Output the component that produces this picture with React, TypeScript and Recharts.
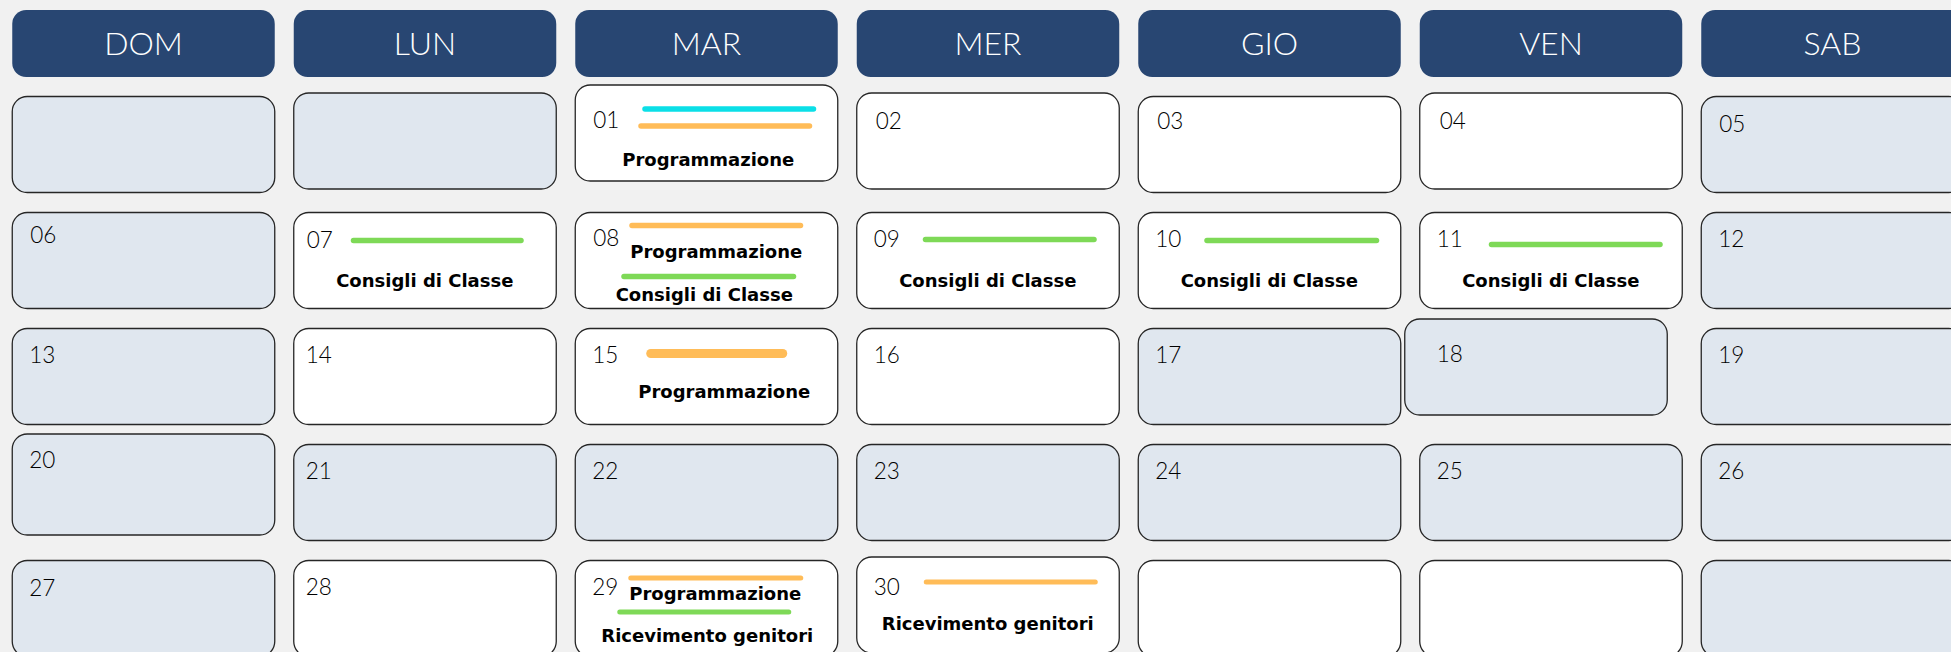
import React from 'react';
import { ScatterChart, Scatter, XAxis, YAxis } from 'recharts';

// ---------- DATA ----------
const weekdayLabels = ['DOM', 'LUN', 'MAR', 'MER', 'GIO', 'VEN', 'SAB'];

const week1Days = ['', '', '01', '02', '03', '04', '05'];
const week2Days = ['06', '07', '08', '09', '10', '11', '12'];
const week3Days = ['13', '14', '15', '16', '17', '18', '19'];
const week4Days = ['20', '21', '22', '23', '24', '25', '26'];
const week5Days = ['27', '28', '29', '30', '', '', ''];

const week1School = [false, false, true, true, true, true, false];
const week2School = [false, true, true, true, true, true, false];
const week3School = [false, true, true, true, false, false, false];
const week4School = [false, false, false, false, false, false, false];
const week5School = [false, true, true, true, true, true, false];

const eventBars = [
  { day: '01', kind: 'cyan' },
  { day: '01', kind: 'orange' },
  { day: '07', kind: 'green' },
  { day: '08', kind: 'orange' },
  { day: '08', kind: 'green' },
  { day: '09', kind: 'green' },
  { day: '10', kind: 'green' },
  { day: '11', kind: 'green' },
  { day: '15', kind: 'orange' },
  { day: '29', kind: 'orange' },
  { day: '29', kind: 'green' },
  { day: '30', kind: 'orange' },
];

const eventLabels = [
  { day: '01', text: 'Programmazione' },
  { day: '07', text: 'Consigli di Classe' },
  { day: '08', text: 'Programmazione' },
  { day: '08', text: 'Consigli di Classe' },
  { day: '09', text: 'Consigli di Classe' },
  { day: '10', text: 'Consigli di Classe' },
  { day: '11', text: 'Consigli di Classe' },
  { day: '15', text: 'Programmazione' },
  { day: '29', text: 'Programmazione' },
  { day: '29', text: 'Ricevimento genitori' },
  { day: '30', text: 'Ricevimento genitori' },
];

// ---------- LAYOUT / STYLE ----------
const W = 1951;
const H = 652;
const CELL_W = 262.5;
const CELL_H = 96;
const HEAD_H = 67;
const X_DOMAIN: [number, number] = [-143.5 / 281.5, (W - 143.5) / 281.5];
const Y_DOMAIN: [number, number] = [-28.5 / 116, (H - 28.5) / 116];

const BG = '#F1F1F1';
const NAVY = '#284672';
const GRAY = '#E0E7EF';
const BAR_COLORS: Record<string, string> = {
  cyan: '#0BDFE7',
  orange: '#FFBC58',
  green: '#7ED957',
};

// per-cell nudges (week-col): dx, dy, h
const cellNudge: Record<string, { dx?: number; dy?: number; h?: number }> = {
  '1-1': { dy: -3.5 },
  '1-2': { dy: -11.5 },
  '1-3': { dy: -3.5 },
  '1-5': { dy: -3.5 },
  '3-5': { dx: -15, dy: -9.5 },
  '4-0': { dy: -10.5, h: 101 },
  '5-3': { dy: -3.5 },
};

// number text offsets relative to the cell's top-left (week-col)
const numberPos: Record<string, [number, number]> = {
  '1-2': [18, 43],
  '1-3': [19, 36],
  '1-4': [19, 32],
  '1-5': [20, 36],
  '1-6': [18, 35],
  '2-0': [18, 30],
  '2-1': [13, 35],
  '2-2': [18, 33],
  '3-1': [12, 34],
  '3-5': [32, 43],
  '4-1': [12, 34],
  '5-1': [12, 34],
  '5-3': [17, 38],
  '5-0': [17, 35],
};

// bar geometry, parallel to eventBars: [x1, x2, y, width] relative to cell top-left
const barLayout: [number, number, number, number][] = [
  [67, 241, 24, 5.5],
  [63, 237, 41, 5.5],
  [57, 230, 28, 5.5],
  [54, 228, 13, 5.5],
  [46, 221, 64, 5.5],
  [66, 240, 27, 5.5],
  [66, 241, 28, 5.5],
  [69, 243, 32, 5.5],
  [71, 212, 25, 9],
  [53, 228, 17.5, 5],
  [42, 216, 51.5, 5],
  [67, 241, 25, 5],
];

// label placement, parallel to eventLabels: [centerX, baseline]
const labelLayout: [number, number][] = [
  [133, 81],
  [131, 74],
  [141, 45],
  [129, 88],
  [131, 74],
  [131, 74],
  [131, 74],
  [149, 69],
  [140, 39],
  [132, 81],
  [131, 73],
];

// ---------- BUILD TABLES ----------
const weeks = [week1Days, week2Days, week3Days, week4Days, week5Days];
const schools = [week1School, week2School, week3School, week4School, week5School];

const cellData = weeks.flatMap((days, wi) =>
  days.map((day, col) => ({ col, week: wi + 1, day, school: schools[wi][col] }))
);

const headerData = weekdayLabels.map((label, col) => ({ col, week: 0, label }));

// ---------- SHAPES ----------
const HeaderShape = (props: any) => {
  const { cx, cy, payload } = props;
  const top = cy + 15 - HEAD_H / 2;
  const left = cx - CELL_W / 2;
  return (
    <g>
      <rect x={left} y={top} width={CELL_W} height={HEAD_H} rx={14} ry={14} fill={NAVY} />
      <text
        x={cx}
        y={top + 45}
        textAnchor="middle"
        fontFamily="Lato, 'Noto Sans', sans-serif"
        fontWeight={300}
        fontSize={32}
        fill="#FFFFFF"
      >
        {payload.label}
      </text>
    </g>
  );
};

const CellShape = (props: any) => {
  const { cx, cy, payload } = props;
  const key = `${payload.week}-${payload.col}`;
  const n = cellNudge[key] || {};
  const left = cx - CELL_W / 2 + (n.dx || 0);
  const top = cy - CELL_H / 2 + (n.dy || 0);
  const h = n.h || CELL_H;
  const np = numberPos[key] || [17, 34];
  const day: string = payload.day;

  const bars = eventBars
    .map((b, i) => ({ ...b, geo: barLayout[i] }))
    .filter((b) => day !== '' && b.day === day);
  const labels = eventLabels
    .map((l, i) => ({ ...l, geo: labelLayout[i] }))
    .filter((l) => day !== '' && l.day === day);

  return (
    <g>
      <rect
        x={left}
        y={top}
        width={CELL_W}
        height={h}
        rx={15}
        ry={15}
        fill={payload.school ? '#FFFFFF' : GRAY}
        stroke="#262626"
        strokeWidth={1.3}
      />
      {day !== '' && (
        <text
          x={left + np[0]}
          y={top + np[1]}
          fontFamily="Lato, 'Noto Sans', sans-serif"
          fontWeight={300}
          fontSize={22.5}
          fill="#000000"
        >
          {day}
        </text>
      )}
      {bars.map((b, i) => {
        const [x1, x2, y, w] = b.geo;
        return (
          <line
            key={`b${i}`}
            x1={left + x1 + w / 2}
            x2={left + x2 - w / 2}
            y1={top + y}
            y2={top + y}
            stroke={BAR_COLORS[b.kind]}
            strokeWidth={w}
            strokeLinecap="round"
          />
        );
      })}
      {labels.map((l, i) => {
        const [lx, ly] = l.geo;
        return (
          <text
            key={`l${i}`}
            x={left + lx}
            y={top + ly}
            textAnchor="middle"
            fontFamily="'DejaVu Sans', sans-serif"
            fontWeight={700}
            fontSize={18}
            fill="#000000"
          >
            {l.text}
          </text>
        );
      })}
    </g>
  );
};

export default function App() {
  return (
    <div
      style={{
        position: 'fixed',
        left: 0,
        top: 0,
        width: W,
        height: H,
        overflow: 'hidden',
        background: BG,
      }}
    >
      <ScatterChart width={W} height={H} margin={{ top: 0, right: 0, bottom: 0, left: 0 }}>
        <XAxis type="number" dataKey="col" domain={X_DOMAIN} allowDataOverflow hide />
        <YAxis type="number" dataKey="week" domain={Y_DOMAIN} allowDataOverflow reversed hide />
        <Scatter data={headerData} shape={HeaderShape} isAnimationActive={false} />
        <Scatter data={cellData} shape={CellShape} isAnimationActive={false} />
      </ScatterChart>
    </div>
  );
}
